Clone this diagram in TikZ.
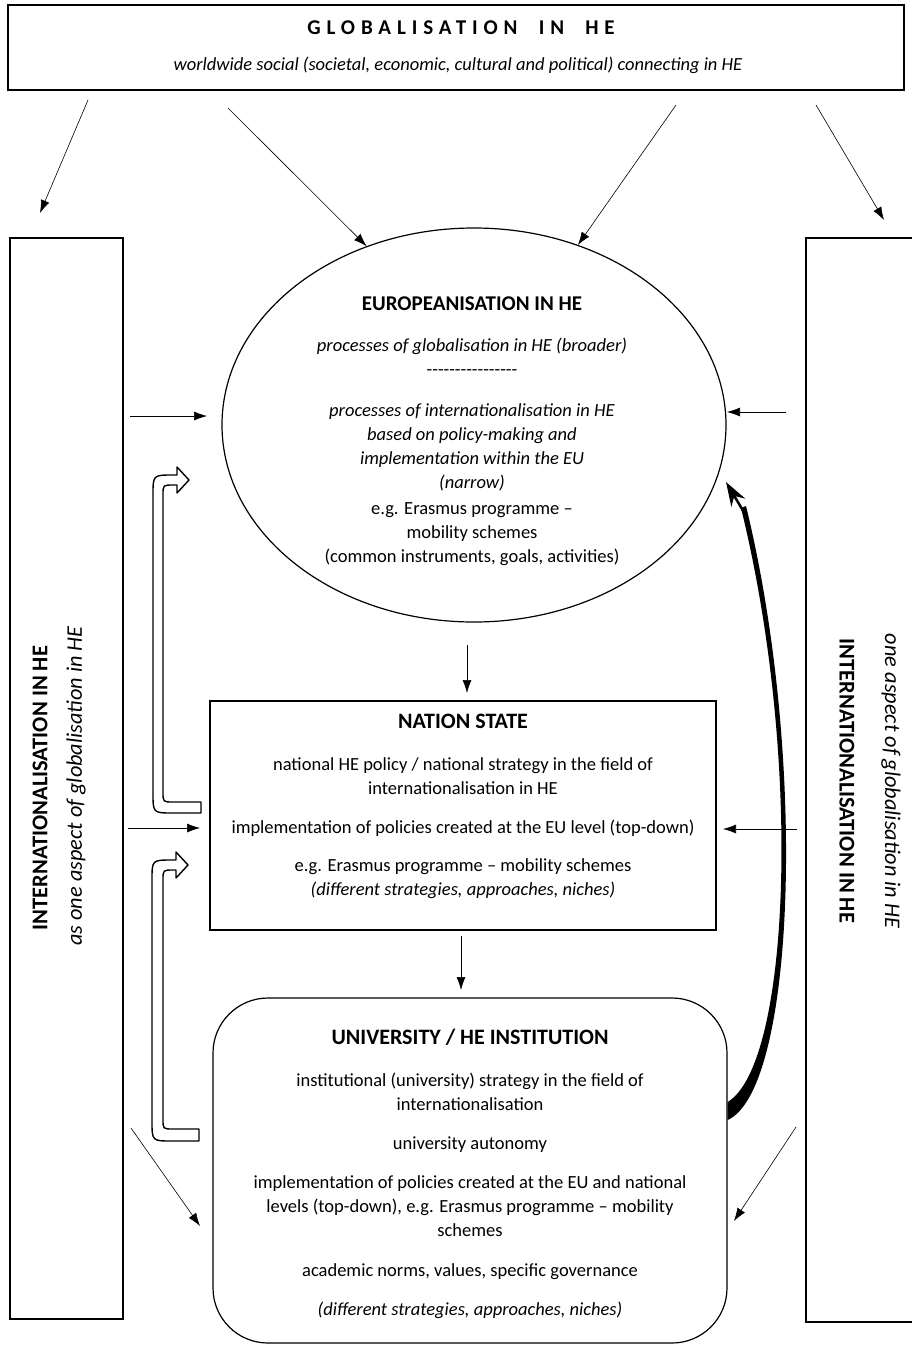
\documentclass[tikz,border=0pt]{standalone}
\usepackage{fontspec}
\setmainfont{Carlito}
\newfontfamily\spacedfont[LetterSpace=28]{Carlito}
\usetikzlibrary{positioning,calc,shapes.geometric,arrows.meta}

\begin{document}
\begin{tikzpicture}[
  x=1pt, y=-1pt,
  box/.style={draw=black, line width=1.2pt, fill=white},
  arrow/.style={-{Latex[length=13pt,width=9pt]}, line width=0.6pt},
  txt/.style={align=center, inner sep=0pt, font=\fontsize{18.5}{24}\selectfont},
  hollow/.style={draw=black, line width=1.4pt, fill=white, line join=round},
  sidetitle/.style={inner sep=0pt, font=\bfseries\fontsize{22.5}{24}\selectfont},
  sidetext/.style={inner sep=0pt, font=\itshape\fontsize{22.3}{24}\selectfont}
]
\useasboundingbox (0,0) rectangle (912,1345);

% Globalisation box
\node[box, minimum width=896pt, minimum height=85pt] (glob) at (456,47.5) {};
\node[inner sep=0pt] (globtitle) at (461,28)
  {\spacedfont\bfseries\fontsize{21}{24}\selectfont GLOBALISATION\ \ IN\ \ HE};
\node[txt, font=\itshape\fontsize{18.5}{24}\selectfont] (globtext) at (458,65)
  {worldwide social (societal, economic, cultural and political) connecting in HE};

% Side panels
\node[box, minimum width=113pt, minimum height=1081pt] (leftpanel) at (66.5,778.5) {};
\node[box, minimum width=112pt, minimum height=1084pt] (rightpanel) at (862,780) {};
\node[sidetitle, rotate=90] (lefttitle) at (40,788) {INTERNATIONALISATION IN HE};
\node[sidetext, rotate=90] (lefttext) at (76,786) {as one aspect of globalisation in HE};
\node[sidetitle, rotate=-90] (righttitle) at (847,781) {INTERNATIONALISATION IN HE};
\node[sidetext, rotate=-90] (righttext) at (891,781) {one aspect of globalisation in HE};

% Europeanisation
\node[box, ellipse, minimum width=504pt, minimum height=394pt] (euro) at (474,425) {};
\node[txt, anchor=north] (eurotext) at (472,297) {%
  {\bfseries\fontsize{21}{24}\selectfont EUROPEANISATION IN HE}\\[17pt]
  \textit{processes of globalisation in HE (broader)}\\
  -{}-{}-{}-{}-{}-{}-{}-{}-{}-{}-{}-{}-{}-{}-{}-\\[17pt]
  \textit{processes of internationalisation in HE}\\
  \textit{based on policy-making and}\\
  \textit{implementation within the EU}\\
  \textit{(narrow)}\\[2pt]
  e.g. Erasmus programme --\\
  mobility schemes\\
  (common instruments, goals, activities)};

% Nation state
\node[box, minimum width=506pt, minimum height=229pt] (nation) at (463,815.5) {};
\node[txt, anchor=north] (nationtext) at (463,714) {%
  {\bfseries\fontsize{22}{24}\selectfont NATION STATE}\\[18pt]
  national HE policy / national strategy in the field of\\
  internationalisation in HE\\[15pt]
  implementation of policies created at the EU level (top-down)\\[14pt]
  e.g. Erasmus programme -- mobility schemes\\
  \textit{(different strategies, approaches, niches)}};

% University
\node[box, rounded corners=55pt, minimum width=514pt, minimum height=345pt] (univ) at (470,1170.5) {};
\node[txt, anchor=north] (univtext) at (470,1029) {%
  {\bfseries\fontsize{22}{24}\selectfont UNIVERSITY / HE INSTITUTION}\\[18pt]
  institutional (university) strategy in the field of\\
  internationalisation\\[15pt]
  university autonomy\\[15pt]
  implementation of policies created at the EU and national\\
  levels (top-down), e.g. Erasmus programme -- mobility\\
  schemes\\[16pt]
  academic norms, values, specific governance\\[15pt]
  \textit{(different strategies, approaches, niches)}};

% Free ends of the thin arrows
\coordinate (g1) at (88,100);   \coordinate (l1) at (40,213);
\coordinate (g2) at (228,108);  \coordinate (g3) at (676,105);
\coordinate (g4) at (816,105);  \coordinate (r1) at (884,220);
\coordinate (l2) at (130,416);  \coordinate (e1) at (207,416);
\coordinate (r2) at (786,412);  \coordinate (e2) at (727,412);
\coordinate (e3) at (467,645);  \coordinate (n1) at (467,693);
\coordinate (l3) at (128,828);  \coordinate (n2) at (200,828);
\coordinate (r3) at (797,829);  \coordinate (n3) at (723,829);
\coordinate (n4) at (461,936);  \coordinate (u1) at (461,990);
\coordinate (l4) at (131,1128); \coordinate (u2) at (200,1226);
\coordinate (r4) at (796,1127); \coordinate (u3) at (734,1221);

\draw[arrow] (g1) -- (l1);
\draw[arrow] (g2) -- (euro.121);
\draw[arrow] (g3) -- (euro.60);
\draw[arrow] (g4) -- (r1);
\draw[arrow] (l2) -- (e1);
\draw[arrow] (r2) -- (e2);
\draw[arrow] (e3) -- (n1);
\draw[arrow] (l3) -- (n2);
\draw[arrow] (r3) -- (n3);
\draw[arrow] (n4) -- (u1);
\draw[arrow] (l4) -- (u2);
\draw[arrow] (r4) -- (u3);

% Hollow arrows on the left
\draw[hollow] (201,802) -- (173,802) .. controls (163,802) .. (163,792) -- (163,495)
  .. controls (163,485) .. (173,485) -- (177,485) -- (177,493) -- (189,480) -- (177,467)
  -- (177,475) -- (173,475) .. controls (153,475) .. (153,495) -- (153,793)
  .. controls (153,813) .. (173,813) -- (201,813) -- cycle;
\draw[hollow] (199,1129) -- (173,1129) .. controls (163,1129) .. (163,1119) -- (163,880)
  .. controls (163,870) .. (173,870) -- (176,870) -- (176,878) -- (188,865) -- (176,852)
  -- (176,860) -- (172,860) .. controls (152,860) .. (152,880) -- (152,1121)
  .. controls (152,1141) .. (172,1141) -- (199,1141) -- cycle;

% Thick curved arrow from the university to Europeanisation
\coordinate (ctip) at (726,482);
\fill (univ.east |- 0,1102) .. controls (790,1065) and (803,760) .. (741,508)
  -- (746,506) .. controls (808,760) and (795,1090) .. (univ.east |- 0,1120) -- cycle;
\draw[-{Stealth[length=24pt,width=16pt]}, line width=2.5pt] (745,514) -- (ctip);

\end{tikzpicture}
\end{document}
